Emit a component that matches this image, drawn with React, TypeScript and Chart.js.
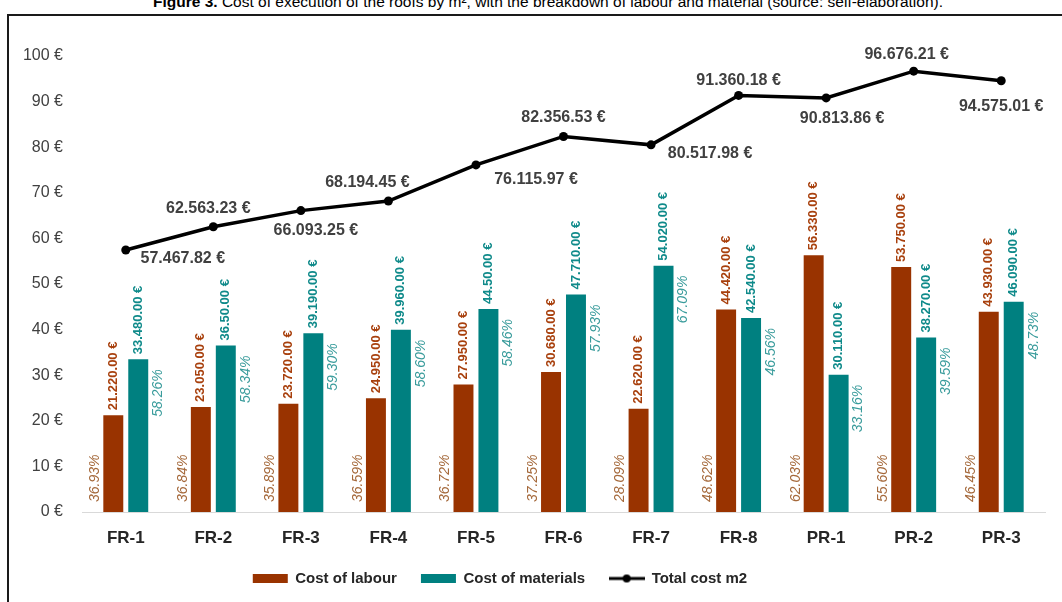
import React, { useEffect, useRef } from "react";
import { Chart, registerables } from "chart.js";

Chart.register(...registerables);

// ---------- data ----------
const categories = ["FR-1", "FR-2", "FR-3", "FR-4", "FR-5", "FR-6", "FR-7", "FR-8", "PR-1", "PR-2", "PR-3"];
const labourCost = [21.22, 23.05, 23.72, 24.95, 27.95, 30.68, 22.62, 44.42, 56.33, 53.75, 43.93];
const materialCost = [33.48, 36.5, 39.19, 39.96, 44.5, 47.71, 54.02, 42.54, 30.11, 38.27, 46.09];
const totalCost = [57.46782, 62.56323, 66.09325, 68.19445, 76.11597, 82.35653, 80.51798, 91.36018, 90.81386, 96.67621, 94.57501];
const labourLabels = ["21.220.00 €", "23.050.00 €", "23.720.00 €", "24.950.00 €", "27.950.00 €", "30.680.00 €", "22.620.00 €", "44.420.00 €", "56.330.00 €", "53.750.00 €", "43.930.00 €"];
const materialLabels = ["33.480.00 €", "36.50.00 €", "39.190.00 €", "39.960.00 €", "44.50.00 €", "47.710.00 €", "54.020.00 €", "42.540.00 €", "30.110.00 €", "38.270.00 €", "46.090.00 €"];
const totalLabels = ["57.467.82 €", "62.563.23 €", "66.093.25 €", "68.194.45 €", "76.115.97 €", "82.356.53 €", "80.517.98 €", "91.360.18 €", "90.813.86 €", "96.676.21 €", "94.575.01 €"];
const labourShare = ["36.93%", "36.84%", "35.89%", "36.59%", "36.72%", "37.25%", "28.09%", "48.62%", "62.03%", "55.60%", "46.45%"];
const materialShare = ["58.26%", "58.34%", "59.30%", "58.60%", "58.46%", "57.93%", "67.09%", "46.56%", "33.16%", "39.59%", "48.73%"];
const seriesNames = ["Cost of labour", "Cost of materials", "Total cost m2"];
const yMin = 0;
const yMax = 100;
const yStep = 10;

// ---------- layout / style (not data) ----------
const totalLabelOffsets: [number, number][] = [
  [57, 9], [-5, -18], [15, 20], [-21, -18], [60, 15], [0, -19], [59, 9], [0, -15], [16, 21], [-7, -17], [0, 26],
];
const FONT = "'Liberation Sans', Arial, sans-serif";
const LABOUR = "#993300";
const MATERIAL = "#008080";
const LABOUR_TXT = "#a8400d";
const MATERIAL_TXT = "#0f8a8a";
const LABOUR_PCT = "#a5693b";
const MATERIAL_PCT = "#3a9c9c";
const DARK = "#404040";

function drawRot(ctx: CanvasRenderingContext2D, text: string, x: number, y: number, align: CanvasTextAlign, font: string, color: string) {
  ctx.save();
  ctx.translate(x, y);
  ctx.rotate(-Math.PI / 2);
  ctx.textAlign = align;
  ctx.textBaseline = "middle";
  ctx.font = font;
  ctx.fillStyle = color;
  ctx.fillText(text, 0, 0);
  ctx.restore();
}

const labelPlugin = {
  id: "valueLabels",
  afterDatasetsDraw(chart: any) {
    const ctx: CanvasRenderingContext2D = chart.ctx;
    const zeroY = chart.scales.y.getPixelForValue(0);
    const valFont = `bold 13px ${FONT}`;
    const pctFont = `italic 14px ${FONT}`;
    chart.getDatasetMeta(0).data.forEach((bar: any, i: number) => {
      const { x, y, width } = bar.getProps(["x", "y", "width"], true);
      drawRot(ctx, labourLabels[i], x, y - 5, "left", valFont, LABOUR_TXT);
      drawRot(ctx, labourShare[i], x - width / 2 - 8, zeroY - 10, "left", pctFont, LABOUR_PCT);
    });
    chart.getDatasetMeta(1).data.forEach((bar: any, i: number) => {
      const { x, y, width } = bar.getProps(["x", "y", "width"], true);
      drawRot(ctx, materialLabels[i], x, y - 5, "left", valFont, MATERIAL_TXT);
      drawRot(ctx, materialShare[i], x + width / 2 + 10, y + 10, "right", pctFont, MATERIAL_PCT);
    });
    ctx.save();
    ctx.font = `bold 16px ${FONT}`;
    ctx.fillStyle = DARK;
    ctx.textAlign = "center";
    ctx.textBaseline = "middle";
    chart.getDatasetMeta(2).data.forEach((pt: any, i: number) => {
      const { x, y } = pt.getProps(["x", "y"], true);
      const [dx, dy] = totalLabelOffsets[i];
      ctx.fillText(totalLabels[i], x + dx, y + dy);
    });
    ctx.restore();
  },
};

export default function App() {
  const ref = useRef<HTMLCanvasElement>(null);

  useEffect(() => {
    const icon = document.createElement("canvas");
    icon.width = 36;
    icon.height = 10;
    const ic = icon.getContext("2d")!;
    ic.strokeStyle = "#000";
    ic.lineWidth = 3;
    ic.beginPath();
    ic.moveTo(0, 5);
    ic.lineTo(36, 5);
    ic.stroke();
    ic.beginPath();
    ic.arc(18, 5, 4, 0, Math.PI * 2);
    ic.fillStyle = "#000";
    ic.fill();

    const chart = new Chart(ref.current!, {
      type: "bar",
      data: {
        labels: categories,
        datasets: [
          {
            type: "bar",
            label: seriesNames[0],
            data: labourCost,
            backgroundColor: LABOUR,
            categoryPercentage: 0.57,
            barPercentage: 0.8,
            order: 1,
          },
          {
            type: "bar",
            label: seriesNames[1],
            data: materialCost,
            backgroundColor: MATERIAL,
            categoryPercentage: 0.57,
            barPercentage: 0.8,
            order: 1,
          },
          {
            type: "line",
            label: seriesNames[2],
            data: totalCost,
            borderColor: "#000",
            backgroundColor: "#000",
            borderWidth: 3.5,
            pointRadius: 4.5,
            pointBackgroundColor: "#000",
            pointBorderWidth: 0,
            tension: 0,
            order: 0,
          } as any,
        ],
      },
      options: {
        responsive: false,
        animation: false,
        devicePixelRatio: 1,
        layout: { padding: { top: 56, left: 0, right: 17, bottom: 6 } },
        scales: {
          x: {
            grid: { display: false, drawTicks: false },
            border: { display: true, color: "#d9d9d9", width: 1 },
            ticks: { padding: 16, color: "#262626", font: { family: FONT, size: 17, weight: "bold" } },
            afterFit: (s: any) => { s.height = 35; },
          },
          y: {
            min: yMin,
            max: yMax,
            grid: { display: false, drawTicks: false },
            border: { display: false },
            ticks: {
              stepSize: yStep,
              padding: 19,
              color: DARK,
              font: { family: FONT, size: 16 },
              callback: (v: any) => `${v} €`,
            },
            afterFit: (s: any) => { s.width = 127; },
          },
        },
        plugins: {
          tooltip: { enabled: false },
          legend: {
            position: "bottom",
            labels: {
              usePointStyle: true,
              pointStyleWidth: 35,
              boxHeight: 9,
              padding: 24,
              color: "#262626",
              font: { family: FONT, size: 15, weight: "bold" },
              generateLabels: (c: any) => {
                const items = (Chart.defaults.plugins.legend.labels as any).generateLabels(c);
                items.sort((a: any, b: any) => a.datasetIndex - b.datasetIndex);
                items.forEach((it: any) => {
                  if (it.datasetIndex === 2) it.pointStyle = icon;
                  else { it.pointStyle = "rect"; it.lineWidth = 0; }
                });
                return items;
              },
            },
          },
        },
      } as any,
      plugins: [labelPlugin],
    });
    return () => chart.destroy();
  }, []);

  return (
    <div style={{ position: "fixed", left: 0, top: 0, width: 1062, height: 602, overflow: "hidden", background: "#fff" }}>
      <div
        style={{
          position: "absolute", left: 17, top: -7, width: 1062, textAlign: "center",
          fontFamily: FONT, fontSize: 15.5, lineHeight: "17px", color: "#000", whiteSpace: "nowrap",
        }}
      >
        <b>Figure 3.</b> Cost of execution of the roofs by m², with the breakdown of labour and material (source: self-elaboration).
      </div>
      <div
        style={{
          position: "absolute", left: 7, top: 14, width: 1200, height: 800,
          borderLeft: "2px solid #1a1a1a", borderTop: "2px solid #1a1a1a",
        }}
      />
      <canvas ref={ref} width={1107} height={602} style={{ position: "absolute", left: -45, top: 0, width: 1107, height: 602 }} />
    </div>
  );
}
